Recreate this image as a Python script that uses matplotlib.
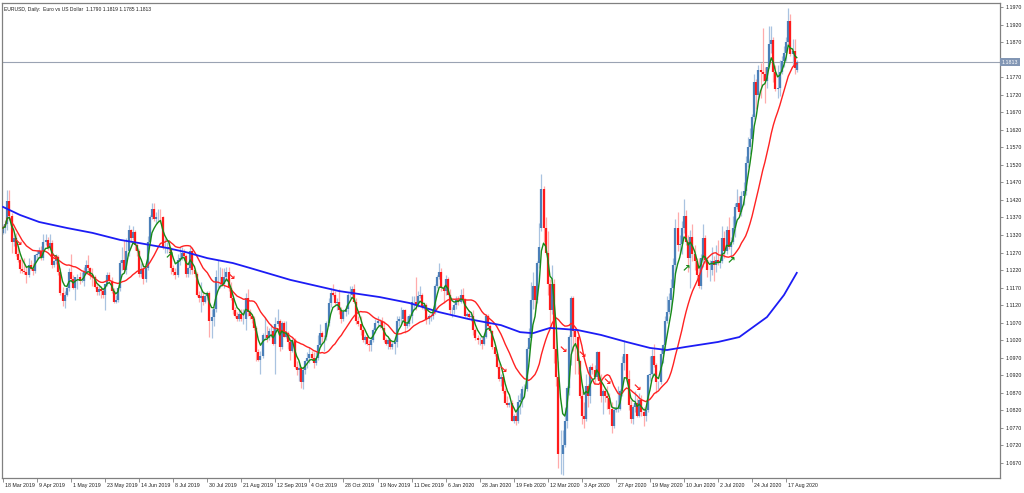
import numpy as np
import pandas as pd
import matplotlib
matplotlib.use("Agg")
from matplotlib import pyplot as plt
from matplotlib import transforms

# daily bars, 18 Mar 2019 .. 24 Aug 2020 (no bars on 25 Dec and 1 Jan)
dates = pd.bdate_range("2019-03-18", "2020-08-24")
dates = dates.drop([pd.Timestamp("2019-12-25"), pd.Timestamp("2020-01-01")])

opens = [
    # Mar 2019
    1.1325, 1.1340, 1.1351, 1.1416, 1.1374, 1.1300, 1.1312, 1.1265, 1.1250, 1.1223,
    # Apr 2019
    1.1217, 1.1215, 1.1205, 1.1235, 1.1222, 1.1216, 1.1262, 1.1265, 1.1275, 1.1255, 1.1300,
    1.1305, 1.1283, 1.1296, 1.1235, 1.1245, 1.1258, 1.1215, 1.1155, 1.1132, 1.1150, 1.1170,
    # May 2019
    1.1215, 1.1195, 1.1170, 1.1200, 1.1200, 1.1190, 1.1190, 1.1215, 1.1235, 1.1225, 1.1205,
    1.1200, 1.1172, 1.1157, 1.1165, 1.1160, 1.1150, 1.1180, 1.1205, 1.1190, 1.1160, 1.1130, 1.1135,
    # Jun 2019
    1.1170, 1.1240, 1.1250, 1.1220, 1.1275, 1.1335, 1.1310, 1.1328, 1.1290, 1.1275,
    1.1210, 1.1222, 1.1194, 1.1225, 1.1300, 1.1370, 1.1395, 1.1365, 1.1370, 1.1372,
    # Jul 2019
    1.1370, 1.1285, 1.1285, 1.1285, 1.1280, 1.1225, 1.1215, 1.1205, 1.1250, 1.1255, 1.1270,
    1.1260, 1.1210, 1.1225, 1.1275, 1.1220, 1.1210, 1.1150, 1.1140, 1.1145, 1.1130, 1.1145, 1.1155,
    # Aug 2019
    1.1075, 1.1085, 1.1110, 1.1200, 1.1200, 1.1200, 1.1180, 1.1200, 1.1215, 1.1170, 1.1140,
    1.1105, 1.1090, 1.1080, 1.1095, 1.1080, 1.1080, 1.1140, 1.1100, 1.1090, 1.1080, 1.1055,
    # Sep 2019
    1.0985, 1.0965, 1.0975, 1.1035, 1.1035, 1.1025, 1.1045, 1.1045, 1.1010, 1.1065, 1.1075,
    1.1000, 1.1070, 1.1030, 1.1040, 1.1015, 1.0990, 1.1020, 1.0945, 1.0935, 1.0940,
    # Oct 2019
    1.0900, 1.0935, 1.0960, 1.0970, 1.0980, 1.0970, 1.0955, 1.0970, 1.1005, 1.1040, 1.1030,
    1.1030, 1.1070, 1.1125, 1.1155, 1.1150, 1.1125, 1.1130, 1.1105, 1.1080, 1.1100, 1.1110, 1.1150,
    # Nov 2019
    1.1150, 1.1165, 1.1130, 1.1075, 1.1065, 1.1050, 1.1020, 1.1030, 1.1010, 1.1005, 1.1020,
    1.1050, 1.1070, 1.1075, 1.1075, 1.1055, 1.1020, 1.1010, 1.1020, 1.1000, 1.1010,
    # Dec 2019
    1.1015, 1.1075, 1.1080, 1.1080, 1.1105, 1.1060, 1.1065, 1.1090, 1.1130, 1.1130, 1.1120,
    1.1145, 1.1150, 1.1115, 1.1120, 1.1080, 1.1090, 1.1090, 1.1100, 1.1175, 1.1200,
    # Jan 2020
    1.1215, 1.1170, 1.1160, 1.1195, 1.1150, 1.1105, 1.1105, 1.1120, 1.1135, 1.1130, 1.1150,
    1.1135, 1.1090, 1.1095, 1.1085, 1.1090, 1.1050, 1.1025, 1.1020, 1.1020, 1.1010, 1.1030,
    # Feb 2020
    1.1090, 1.1060, 1.1045, 1.1000, 1.0980, 1.0945, 1.0910, 1.0915, 1.0875, 1.0840,
    1.0835, 1.0840, 1.0790, 1.0805, 1.0790, 1.0845, 1.0850, 1.0880, 1.0880, 1.0995,
    # Mar 2020
    1.1025, 1.1135, 1.1175, 1.1135, 1.1240, 1.1340, 1.1450, 1.1340, 1.1270, 1.1180, 1.1105,
    1.1180, 1.0995, 1.0915, 1.0695, 1.0695, 1.0720, 1.0790, 1.0885, 1.1030, 1.1140, 1.1045,
    # Apr 2020
    1.1030, 1.0960, 1.0860, 1.0805, 1.0795, 1.0890, 1.0860, 1.0945, 1.0935, 1.0915, 1.0985,
    1.0905, 1.0860, 1.0875, 1.0860, 1.0855, 1.0825, 1.0775, 1.0820, 1.0825, 1.0825, 1.0875,
    # May 2020
    1.0955, 1.0980, 1.0910, 1.0835, 1.0795, 1.0830, 1.0840, 1.0805, 1.0850, 1.0815, 1.0805,
    1.0820, 1.0920, 1.0925, 1.0975, 1.0950, 1.0900, 1.0900, 1.0980, 1.1005, 1.1075,
    # Jun 2020
    1.1100, 1.1135, 1.1170, 1.1235, 1.1340, 1.1290, 1.1295, 1.1340, 1.1375, 1.1300, 1.1255,
    1.1315, 1.1265, 1.1245, 1.1205, 1.1175, 1.1255, 1.1310, 1.1250, 1.1220, 1.1220, 1.1245,
    # Jul 2020
    1.1235, 1.1250, 1.1240, 1.1245, 1.1310, 1.1275, 1.1335, 1.1285, 1.1300, 1.1340, 1.1400,
    1.1410, 1.1385, 1.1430, 1.1445, 1.1525, 1.1570, 1.1595, 1.1655, 1.1755, 1.1720, 1.1790, 1.1785,
    # Aug 2020
    1.1780, 1.1760, 1.1800, 1.1865, 1.1875, 1.1785, 1.1735, 1.1740, 1.1785, 1.1815, 1.1840,
    1.1870, 1.1930, 1.1835, 1.1845, 1.1790,
]

highs = [
    1.1348, 1.1362, 1.1448, 1.1448, 1.1384, 1.1325, 1.1326, 1.1287, 1.1255, 1.1255,
    1.1255, 1.1232, 1.1255, 1.1248, 1.1240, 1.1265, 1.1277, 1.1286, 1.1288, 1.1324, 1.1323,
    1.1314, 1.1324, 1.1306, 1.1250, 1.1267, 1.1262, 1.1227, 1.1173, 1.1160, 1.1180, 1.1225,
    1.1265, 1.1205, 1.1200, 1.1208, 1.1215, 1.1215, 1.1230, 1.1250, 1.1264, 1.1230, 1.1225,
    1.1205, 1.1180, 1.1178, 1.1175, 1.1170, 1.1160, 1.1215, 1.1215, 1.1200, 1.1170, 1.1150, 1.1170,
    1.1250, 1.1285, 1.1307, 1.1310, 1.1348, 1.1337, 1.1346, 1.1335, 1.1298, 1.1280,
    1.1240, 1.1240, 1.1230, 1.1318, 1.1377, 1.1410, 1.1412, 1.1385, 1.1394, 1.1395,
    1.1375, 1.1310, 1.1300, 1.1300, 1.1285, 1.1235, 1.1225, 1.1265, 1.1285, 1.1285, 1.1280,
    1.1265, 1.1230, 1.1285, 1.1285, 1.1225, 1.1215, 1.1160, 1.1185, 1.1160, 1.1150, 1.1160, 1.1160,
    1.1110, 1.1115, 1.1220, 1.1250, 1.1230, 1.1225, 1.1225, 1.1230, 1.1230, 1.1185, 1.1150,
    1.1115, 1.1100, 1.1105, 1.1110, 1.1110, 1.1155, 1.1165, 1.1110, 1.1095, 1.1090, 1.1060,
    1.0995, 1.0990, 1.1040, 1.1085, 1.1060, 1.1055, 1.1065, 1.1055, 1.1085, 1.1110, 1.1080,
    1.1075, 1.1075, 1.1075, 1.1045, 1.1025, 1.1025, 1.1025, 1.0960, 1.0960, 1.0945,
    1.0945, 1.0965, 1.0985, 1.1000, 1.0990, 1.0985, 1.0985, 1.1035, 1.1065, 1.1045, 1.1035,
    1.1075, 1.1140, 1.1170, 1.1180, 1.1160, 1.1140, 1.1165, 1.1115, 1.1110, 1.1120, 1.1155, 1.1175,
    1.1175, 1.1180, 1.1140, 1.1090, 1.1090, 1.1055, 1.1035, 1.1040, 1.1020, 1.1030, 1.1055,
    1.1080, 1.1090, 1.1080, 1.1085, 1.1075, 1.1025, 1.1025, 1.1025, 1.1015, 1.1030,
    1.1090, 1.1090, 1.1115, 1.1110, 1.1110, 1.1090, 1.1095, 1.1145, 1.1145, 1.1200, 1.1160,
    1.1175, 1.1155, 1.1130, 1.1125, 1.1095, 1.1095, 1.1100, 1.1180, 1.1205, 1.1240,
    1.1225, 1.1175, 1.1205, 1.1200, 1.1165, 1.1115, 1.1125, 1.1145, 1.1145, 1.1165, 1.1170,
    1.1140, 1.1100, 1.1105, 1.1100, 1.1105, 1.1055, 1.1035, 1.1030, 1.1030, 1.1040, 1.1095,
    1.1095, 1.1065, 1.1050, 1.1010, 1.0985, 1.0955, 1.0925, 1.0925, 1.0885, 1.0860,
    1.0845, 1.0850, 1.0810, 1.0815, 1.0865, 1.0870, 1.0890, 1.0895, 1.1000, 1.1055,
    1.1185, 1.1215, 1.1175, 1.1245, 1.1355, 1.1495, 1.1460, 1.1370, 1.1330, 1.1195, 1.1235,
    1.1195, 1.1045, 1.0960, 1.0765, 1.0765, 1.0830, 1.0890, 1.1035, 1.1145, 1.1145, 1.1055,
    1.1035, 1.0965, 1.0875, 1.0845, 1.0925, 1.0895, 1.0950, 1.0955, 1.0950, 1.0990, 1.0990,
    1.0925, 1.0880, 1.0885, 1.0890, 1.0870, 1.0845, 1.0830, 1.0850, 1.0890, 1.0880, 1.0975,
    1.1020, 1.0980, 1.0935, 1.0850, 1.0835, 1.0875, 1.0855, 1.0870, 1.0865, 1.0830, 1.0835,
    1.0925, 1.0975, 1.0995, 1.1010, 1.0955, 1.0905, 1.0995, 1.1010, 1.1090, 1.1145,
    1.1155, 1.1195, 1.1255, 1.1365, 1.1385, 1.1320, 1.1360, 1.1422, 1.1390, 1.1320, 1.1335,
    1.1350, 1.1290, 1.1255, 1.1255, 1.1265, 1.1350, 1.1320, 1.1255, 1.1250, 1.1285, 1.1260,
    1.1290, 1.1305, 1.1265, 1.1345, 1.1330, 1.1345, 1.1370, 1.1315, 1.1375, 1.1410, 1.1450,
    1.1430, 1.1445, 1.1470, 1.1545, 1.1600, 1.1625, 1.1665, 1.1780, 1.1765, 1.1805, 1.1810, 1.1910,
    1.1800, 1.1800, 1.1915, 1.1915, 1.1885, 1.1805, 1.1805, 1.1820, 1.1830, 1.1860, 1.1885,
    1.1966, 1.1950, 1.1880, 1.1880, 1.1819,
]

lows = [
    1.1322, 1.1327, 1.1335, 1.1364, 1.1270, 1.1288, 1.1261, 1.1244, 1.1212, 1.1211,
    1.1208, 1.1184, 1.1200, 1.1220, 1.1205, 1.1212, 1.1250, 1.1254, 1.1250, 1.1250, 1.1290,
    1.1276, 1.1280, 1.1226, 1.1228, 1.1236, 1.1205, 1.1150, 1.1118, 1.1112, 1.1145, 1.1160,
    1.1190, 1.1165, 1.1135, 1.1165, 1.1180, 1.1185, 1.1175, 1.1210, 1.1220, 1.1195, 1.1175,
    1.1168, 1.1150, 1.1150, 1.1140, 1.1140, 1.1107, 1.1175, 1.1185, 1.1155, 1.1125, 1.1125, 1.1130,
    1.1160, 1.1220, 1.1215, 1.1210, 1.1260, 1.1300, 1.1305, 1.1277, 1.1260, 1.1200,
    1.1200, 1.1180, 1.1185, 1.1220, 1.1290, 1.1365, 1.1360, 1.1355, 1.1360, 1.1355,
    1.1280, 1.1270, 1.1270, 1.1270, 1.1208, 1.1205, 1.1194, 1.1200, 1.1235, 1.1250, 1.1250,
    1.1200, 1.1200, 1.1210, 1.1210, 1.1200, 1.1145, 1.1130, 1.1100, 1.1120, 1.1125, 1.1135, 1.1030,
    1.1027, 1.1060, 1.1100, 1.1170, 1.1170, 1.1175, 1.1170, 1.1190, 1.1160, 1.1135, 1.1095,
    1.1085, 1.1075, 1.1075, 1.1075, 1.1065, 1.1050, 1.1090, 1.1080, 1.1070, 1.1050, 1.0960,
    1.0960, 1.0925, 1.0970, 1.1020, 1.1015, 1.1020, 1.1030, 1.1005, 1.0925, 1.1060, 1.0990,
    1.0995, 1.1030, 1.1025, 1.0995, 1.0965, 1.0985, 1.0940, 1.0920, 1.0905, 1.0885,
    1.0880, 1.0925, 1.0940, 1.0955, 1.0965, 1.0940, 1.0950, 1.0965, 1.1000, 1.1015, 1.0990,
    1.1020, 1.1060, 1.1115, 1.1145, 1.1120, 1.1105, 1.1095, 1.1070, 1.1075, 1.1090, 1.1095, 1.1140,
    1.1140, 1.1125, 1.1065, 1.1060, 1.1035, 1.1015, 1.1010, 1.1005, 1.0990, 1.0990, 1.1015,
    1.1040, 1.1060, 1.1055, 1.1050, 1.1015, 1.1005, 1.0995, 1.0995, 1.0995, 1.0980,
    1.1000, 1.1060, 1.1070, 1.1075, 1.1040, 1.1055, 1.1060, 1.1070, 1.1105, 1.1105, 1.1115,
    1.1140, 1.1110, 1.1105, 1.1065, 1.1065, 1.1075, 1.1080, 1.1095, 1.1170, 1.1195,
    1.1160, 1.1125, 1.1150, 1.1150, 1.1095, 1.1085, 1.1095, 1.1110, 1.1120, 1.1125, 1.1130,
    1.1085, 1.1085, 1.1080, 1.1075, 1.1035, 1.1020, 1.1010, 1.1005, 1.0995, 1.1005, 1.1025,
    1.1055, 1.1040, 1.0995, 1.0975, 1.0940, 1.0905, 1.0890, 1.0870, 1.0840, 1.0830,
    1.0830, 1.0790, 1.0785, 1.0778, 1.0785, 1.0810, 1.0830, 1.0855, 1.0875, 1.0960,
    1.1020, 1.1110, 1.1110, 1.1125, 1.1225, 1.1330, 1.1300, 1.1265, 1.1150, 1.1055, 1.1095,
    1.0955, 1.0890, 1.0655, 1.0640, 1.0636, 1.0715, 1.0770, 1.0865, 1.0950, 1.0990, 1.0925,
    1.0925, 1.0855, 1.0780, 1.0770, 1.0790, 1.0830, 1.0840, 1.0925, 1.0895, 1.0910, 1.0900,
    1.0845, 1.0810, 1.0845, 1.0825, 1.0810, 1.0755, 1.0770, 1.0815, 1.0815, 1.0820, 1.0860,
    1.0935, 1.0905, 1.0820, 1.0785, 1.0780, 1.0815, 1.0800, 1.0800, 1.0805, 1.0775, 1.0790,
    1.0815, 1.0905, 1.0915, 1.0945, 1.0870, 1.0880, 1.0895, 1.0955, 1.0990, 1.1070,
    1.1095, 1.1105, 1.1165, 1.1210, 1.1275, 1.1265, 1.1265, 1.1325, 1.1290, 1.1215, 1.1170,
    1.1245, 1.1220, 1.1195, 1.1170, 1.1165, 1.1230, 1.1240, 1.1200, 1.1190, 1.1205, 1.1190,
    1.1215, 1.1235, 1.1225, 1.1240, 1.1255, 1.1265, 1.1280, 1.1255, 1.1295, 1.1315, 1.1395,
    1.1370, 1.1375, 1.1405, 1.1435, 1.1515, 1.1550, 1.1590, 1.1650, 1.1680, 1.1705, 1.1710, 1.1760,
    1.1695, 1.1740, 1.1795, 1.1840, 1.1755, 1.1730, 1.1710, 1.1715, 1.1780, 1.1800, 1.1815,
    1.1865, 1.1830, 1.1805, 1.1780, 1.1785,
]

closes = [
    1.1340, 1.1351, 1.1416, 1.1374, 1.1300, 1.1312, 1.1265, 1.1250, 1.1223, 1.1217,
    1.1215, 1.1205, 1.1235, 1.1222, 1.1216, 1.1262, 1.1265, 1.1275, 1.1255, 1.1300, 1.1305,
    1.1283, 1.1296, 1.1235, 1.1245, 1.1258, 1.1215, 1.1155, 1.1132, 1.1150, 1.1170, 1.1215,
    1.1195, 1.1170, 1.1200, 1.1200, 1.1190, 1.1190, 1.1215, 1.1235, 1.1225, 1.1205, 1.1200,
    1.1172, 1.1157, 1.1165, 1.1160, 1.1150, 1.1180, 1.1205, 1.1190, 1.1160, 1.1130, 1.1135, 1.1170,
    1.1240, 1.1250, 1.1220, 1.1275, 1.1335, 1.1310, 1.1328, 1.1290, 1.1275, 1.1210,
    1.1222, 1.1194, 1.1225, 1.1300, 1.1370, 1.1395, 1.1365, 1.1370, 1.1372, 1.1370,
    1.1285, 1.1285, 1.1285, 1.1280, 1.1225, 1.1215, 1.1205, 1.1250, 1.1255, 1.1270, 1.1260,
    1.1210, 1.1225, 1.1275, 1.1220, 1.1210, 1.1150, 1.1140, 1.1145, 1.1130, 1.1145, 1.1155, 1.1075,
    1.1085, 1.1110, 1.1200, 1.1200, 1.1200, 1.1180, 1.1200, 1.1215, 1.1170, 1.1140, 1.1105,
    1.1090, 1.1080, 1.1095, 1.1080, 1.1080, 1.1140, 1.1100, 1.1090, 1.1080, 1.1055, 1.0985,
    1.0965, 1.0975, 1.1035, 1.1035, 1.1025, 1.1045, 1.1045, 1.1010, 1.1065, 1.1075, 1.1000,
    1.1070, 1.1030, 1.1040, 1.1015, 1.0990, 1.1020, 1.0945, 1.0935, 1.0940, 1.0900,
    1.0935, 1.0960, 1.0970, 1.0980, 1.0970, 1.0955, 1.0970, 1.1005, 1.1040, 1.1030, 1.1030,
    1.1070, 1.1125, 1.1155, 1.1150, 1.1125, 1.1130, 1.1105, 1.1080, 1.1100, 1.1110, 1.1150, 1.1150,
    1.1165, 1.1130, 1.1075, 1.1065, 1.1050, 1.1020, 1.1030, 1.1010, 1.1005, 1.1020, 1.1050,
    1.1070, 1.1075, 1.1075, 1.1055, 1.1020, 1.1010, 1.1020, 1.1000, 1.1010, 1.1015,
    1.1075, 1.1080, 1.1080, 1.1105, 1.1060, 1.1065, 1.1090, 1.1130, 1.1130, 1.1120, 1.1145,
    1.1150, 1.1115, 1.1120, 1.1080, 1.1090, 1.1090, 1.1100, 1.1175, 1.1200, 1.1215,
    1.1170, 1.1160, 1.1195, 1.1150, 1.1105, 1.1105, 1.1120, 1.1135, 1.1130, 1.1150, 1.1135,
    1.1090, 1.1095, 1.1085, 1.1090, 1.1050, 1.1025, 1.1020, 1.1020, 1.1010, 1.1030, 1.1090,
    1.1060, 1.1045, 1.1000, 1.0980, 1.0945, 1.0910, 1.0915, 1.0875, 1.0840, 1.0835,
    1.0840, 1.0790, 1.0805, 1.0790, 1.0845, 1.0850, 1.0880, 1.0880, 1.0995, 1.1025,
    1.1135, 1.1175, 1.1135, 1.1240, 1.1285, 1.1450, 1.1340, 1.1270, 1.1180, 1.1105, 1.1180,
    1.0995, 1.0915, 1.0695, 1.0695, 1.0720, 1.0790, 1.0885, 1.1030, 1.1140, 1.1045, 1.1030,
    1.0960, 1.0860, 1.0805, 1.0795, 1.0890, 1.0860, 1.0945, 1.0935, 1.0915, 1.0985, 1.0905,
    1.0860, 1.0875, 1.0860, 1.0855, 1.0825, 1.0775, 1.0820, 1.0825, 1.0825, 1.0875, 1.0955,
    1.0980, 1.0910, 1.0835, 1.0795, 1.0830, 1.0840, 1.0805, 1.0850, 1.0815, 1.0805, 1.0820,
    1.0920, 1.0925, 1.0975, 1.0950, 1.0900, 1.0900, 1.0980, 1.1005, 1.1075, 1.1100,
    1.1135, 1.1170, 1.1235, 1.1340, 1.1290, 1.1295, 1.1340, 1.1375, 1.1300, 1.1255, 1.1315,
    1.1265, 1.1245, 1.1205, 1.1175, 1.1255, 1.1310, 1.1250, 1.1220, 1.1220, 1.1245, 1.1235,
    1.1250, 1.1240, 1.1245, 1.1310, 1.1275, 1.1335, 1.1285, 1.1300, 1.1340, 1.1400, 1.1410,
    1.1385, 1.1430, 1.1445, 1.1525, 1.1570, 1.1595, 1.1655, 1.1755, 1.1720, 1.1790, 1.1785, 1.1780,
    1.1760, 1.1800, 1.1865, 1.1875, 1.1785, 1.1735, 1.1740, 1.1785, 1.1815, 1.1840, 1.1870,
    1.1930, 1.1835, 1.1845, 1.1795, 1.1813,
]

# slow (blue) moving average at some bars
blue_bar = [0, 8, 17, 30, 42, 55, 64, 77, 86, 96, 108, 116, 135, 158, 177, 191, 205,
            219, 234, 243, 249, 257, 270, 281, 293, 304, 312, 321, 336, 346, 359, 367, 373]
blue_val = [1.1400, 1.1377, 1.1357, 1.1340, 1.1326, 1.1306, 1.1297, 1.1283, 1.1271, 1.1254,
            1.1240, 1.1226, 1.1192, 1.1160, 1.1143, 1.1126, 1.1100, 1.1080, 1.1063, 1.1043,
            1.1040, 1.1055, 1.1049, 1.1035, 1.1015, 1.0998, 1.0992, 1.1001, 1.1015, 1.1029,
            1.1086, 1.1149, 1.1212]

# signal arrows
sell_bar = [7, 24, 107, 235, 263, 272, 284, 298]
sell_val = [1.1297, 1.1257, 1.1200, 1.0935, 1.0992, 1.0978, 1.0901, 1.0884]
buy_bar = [78, 321, 342]
buy_val = [1.1263, 1.1226, 1.1249]

last_price = 1.1813
title = "EURUSD, Daily:  Euro vs US Dollar  1.1790 1.1819 1.1785 1.1813"

# ---- figure ----
W, H = 1024, 493
fig = plt.figure(figsize=(W / 100, H / 100), dpi=100)
ax = fig.add_axes([2 / W, 15 / H, 998 / W, 475 / H])
FONT = ["Liberation Sans", "DejaVu Sans"]
FS = 3.8

n = len(closes)
x = np.arange(n)
o = np.array(opens); h = np.array(highs); l = np.array(lows); c = np.array(closes)
up = c >= o

wick_col = np.where(up, "#a9c3e0", "#ffabab")
body_col = np.where(up, "#4a7fb8", "#ff1a1a")
ax.vlines(x, l, h, colors=wick_col, lw=0.9, zorder=1)
ax.vlines(x, np.minimum(o, c), np.maximum(o, c), colors=body_col, lw=1.6, zorder=2)

s = pd.Series(closes)
green = s.ewm(span=5, adjust=False).mean()
red = s.rolling(20, min_periods=1).mean()
ax.plot(x, red, color="#ff2222", lw=1.0, zorder=3)
ax.plot(x, green, color="#178a17", lw=1.0, zorder=4)
ax.plot(blue_bar, blue_val, color="#1c1cf5", lw=1.3, zorder=3)

for b, v in zip(sell_bar, sell_val):
    ax.text(b, v, "\u2198", color="#ff2020", fontsize=7.5, ha="center", va="center",
            family="DejaVu Sans", fontweight="bold", zorder=5)
for b, v in zip(buy_bar, buy_val):
    ax.text(b, v, "\u2197", color="#178a17", fontsize=7.5, ha="center", va="center",
            family="DejaVu Sans", fontweight="bold", zorder=5)

# current price line
ax.axhline(last_price, color="#9aa3b3", lw=0.8, zorder=0)

ax.set_xlim(-0.47, 468.5)
ax.set_ylim(1.06272, 1.19813)

for sp in ax.spines.values():
    sp.set_color("#808080")
    sp.set_linewidth(0.9)

# price scale on the right (1.1820 is hidden behind the current price box)
yt = np.round(np.arange(1.0670, 1.1971, 0.005), 4)
ax.yaxis.tick_right()
ax.set_yticks(yt)
ax.set_yticklabels(["" if abs(v - 1.182) < 1e-6 else f"{v:.4f}" for v in yt],
                   fontsize=FS, family=FONT, color="#202020")
ax.tick_params(axis="y", length=2.5, width=0.6, color="#808080", pad=1.5)
ax.text(1.0015, last_price, f"{last_price:.4f}", transform=ax.get_yaxis_transform(),
        fontsize=FS, family=FONT, color="white", ha="left", va="center",
        bbox=dict(boxstyle="square,pad=0.3", fc="#8296b4", ec="none"), zorder=6,
        clip_on=False)

# date scale below
ax.set_xticks(x[::16])
ax.set_xticklabels([])
ax.tick_params(axis="x", length=3, width=0.6, color="#808080")
off = transforms.ScaledTranslation(2 / 100, -5 / 100, fig.dpi_scale_trans)
tr = transforms.blended_transform_factory(ax.transData, ax.transAxes) + off
for i in x[::16]:
    d = dates[i]
    ax.text(i, 0, f"{d.day} {d:%b %Y}", transform=tr, fontsize=FS, family=FONT,
            color="#202020", ha="left", va="top", clip_on=False)

fig.text(4 / W, 1 - 9 / H, title, fontsize=3.6, family=FONT, color="#202020",
         ha="left", va="center")

fig.savefig("out.png", dpi=100)
